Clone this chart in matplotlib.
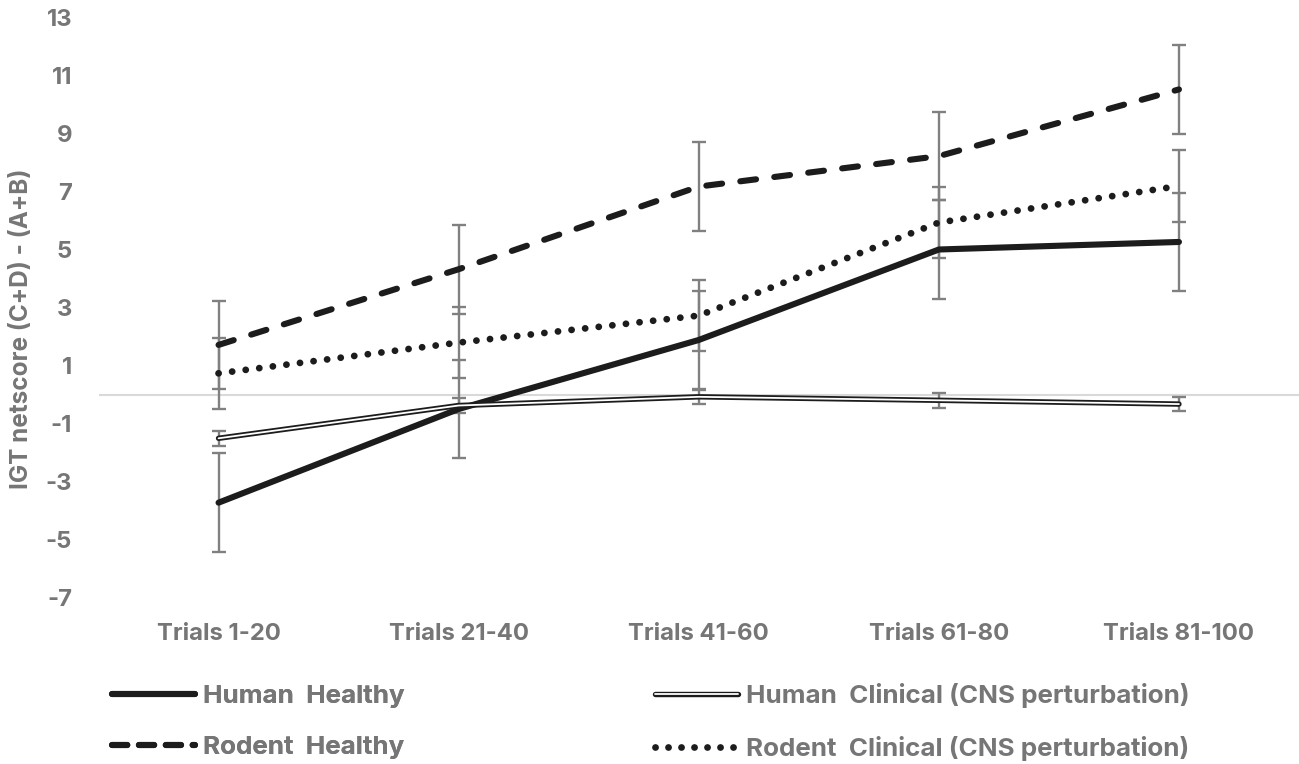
import matplotlib
matplotlib.use("Agg")
import matplotlib.pyplot as plt
from matplotlib.lines import Line2D
from matplotlib.legend_handler import HandlerTuple

plt.rcParams['font.family'] = ['Inter', 'DejaVu Sans']
plt.rcParams['axes.unicode_minus'] = False

categories = ["Trials 1-20", "Trials 21-40", "Trials 41-60", "Trials 61-80", "Trials 81-100"]
human_healthy = [-3.73, -0.5, 1.88, 5.0, 5.26]
human_healthy_err = [1.7, 1.7, 1.7, 1.7, 1.7]
human_clinical = [-1.51, -0.38, -0.08, -0.2, -0.33]
human_clinical_err = [0.25, 0.25, 0.25, 0.25, 0.25]
rodent_healthy = [1.71, 4.32, 7.17, 8.22, 10.52]
rodent_healthy_err = [1.53, 1.53, 1.53, 1.53, 1.53]
rodent_clinical = [0.73, 1.79, 2.72, 5.93, 7.19]
rodent_clinical_err = [1.23, 1.23, 1.23, 1.23, 1.23]
yticks = [-7, -5, -3, -1, 1, 3, 5, 7, 9, 11, 13]

W, H = 1299, 764
fig = plt.figure(figsize=(W / 100, H / 100), dpi=100)
ax = fig.add_axes([98.5 / W, 1 - 597.5 / H, 1 - 98.5 / W, (597.5 - 17.5) / H])

TXT = '#767676'
ERR = '#808080'
LC = '#1c1c1c'
FS = 17.2
x = list(range(len(categories)))

ax.axhline(0, color='#d9d9d9', lw=1.5, zorder=1)

for vals, errs in [(human_healthy, human_healthy_err), (human_clinical, human_clinical_err),
                   (rodent_healthy, rodent_healthy_err), (rodent_clinical, rodent_clinical_err)]:
    ax.errorbar(x, vals, yerr=errs, fmt='none', ecolor=ERR, elinewidth=1.7,
                capsize=4.7, capthick=1.7, zorder=2)

lw = 4.4
dot_lw = 4.9
l_hh, = ax.plot(x, human_healthy, color=LC, lw=lw, solid_capstyle='round',
                solid_joinstyle='round', zorder=4)
l_hc_o, = ax.plot(x, human_clinical, color=LC, lw=3.9, solid_capstyle='round',
                  solid_joinstyle='round', zorder=4)
l_hc_i, = ax.plot(x, human_clinical, color='white', lw=1.3, solid_capstyle='round',
                  solid_joinstyle='round', zorder=5)
l_rh, = ax.plot(x, rodent_healthy, color=LC, lw=lw, dash_capstyle='round',
                dash_joinstyle='round', dashes=(2.6, 3.0), zorder=4)
l_rc, = ax.plot(x, rodent_clinical, color=LC, lw=dot_lw, dash_capstyle='round',
                dashes=(0.01, 2.0), zorder=4)

ax.set_xlim(-0.5, len(categories) - 0.5)
ax.set_ylim(-7, 13)
ax.set_yticks(yticks)
ax.set_xticks(x)
ax.set_xticklabels(categories)
for s in ax.spines.values():
    s.set_visible(False)
ax.tick_params(axis='y', length=0, pad=19, labelsize=FS, labelcolor=TXT)
ax.tick_params(axis='x', length=0, pad=18, labelsize=FS, labelcolor=TXT)
for t in ax.get_xticklabels() + ax.get_yticklabels():
    t.set_fontweight('bold')

fig.text(22 / W, 1 - 329 / H, "IGT netscore (C+D) - (A+B)", rotation=90, ha='center',
         va='center', fontsize=17.5, color=TXT, fontweight='bold')

lab_kw = dict(frameon=False, borderpad=0, borderaxespad=0, handlelength=3.2,
              handletextpad=0.3, labelspacing=1.1, labelcolor=TXT,
              prop={'weight': 'bold', 'size': 18.7})
h_hh = Line2D([], [], color=LC, lw=lw, solid_capstyle='round')
h_rh = Line2D([], [], color=LC, lw=lw, dash_capstyle='round', dashes=(2.5, 1.9))
h_hc = (Line2D([], [], color=LC, lw=3.9, solid_capstyle='round'),
        Line2D([], [], color='white', lw=1.3, solid_capstyle='round'))
h_rc = Line2D([], [], color=LC, lw=dot_lw, dash_capstyle='round', dashes=(0.01, 1.9))

leg1 = fig.legend([h_hh, h_rh], ["Human  Healthy", "Rodent  Healthy"], loc='center left',
                  bbox_to_anchor=(112 / W, 1 - 722 / H), **lab_kw)
fig.add_artist(leg1)
leg2 = fig.legend([h_hc, h_rc], ["Human  Clinical (CNS perturbation)",
                                 "Rodent  Clinical (CNS perturbation)"], loc='center left',
                  bbox_to_anchor=(655 / W, 1 - 722 / H),
                  handler_map={tuple: HandlerTuple(ndivide=1, pad=0)}, **lab_kw)

fig.savefig("out.png", dpi=100)
